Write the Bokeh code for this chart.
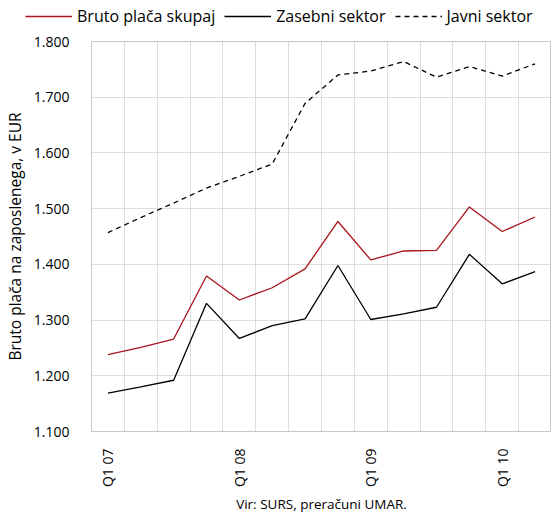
from bokeh.plotting import figure
from bokeh.models import FixedTicker, Legend, LegendItem
from bokeh.layouts import column, row
from bokeh.embed import file_html
from bokeh.resources import INLINE
import math

quarters = ["Q1 07", "Q2 07", "Q3 07", "Q4 07",
            "Q1 08", "Q2 08", "Q3 08", "Q4 08",
            "Q1 09", "Q2 09", "Q3 09", "Q4 09",
            "Q1 10", "Q2 10"]
bruto_skupaj = [1238, 1251, 1266, 1379, 1336, 1358, 1392, 1477, 1408, 1424, 1425, 1503, 1459, 1485]
zasebni = [1169, 1180, 1192, 1330, 1267, 1290, 1302, 1398, 1301, 1311, 1323, 1418, 1365, 1387]
javni = [1457, 1484, 1510, 1537, 1558, 1580, 1689, 1740, 1747, 1764, 1736, 1755, 1738, 1760]
y_ticks = [1100, 1200, 1300, 1400, 1500, 1600, 1700, 1800]
series = [("Bruto plača skupaj", bruto_skupaj, "#a8141c", "solid"),
          ("Zasebni sektor", zasebni, "#000000", "solid"),
          ("Javni sektor", javni, "#000000", "5 4")]

FONT = "Open Sans"
x = [i + 0.5 for i in range(len(quarters))]

# ---- main chart ----
p = figure(width=551, height=486, output_backend="svg", toolbar_location=None,
           x_range=(0, len(quarters)), y_range=(1100, 1800),
           min_border_left=82, min_border_right=0, min_border_top=11, min_border_bottom=85)
p.outline_line_color = "#c8c8c8"
p.outline_line_width = 1

p.xgrid.ticker = FixedTicker(ticks=list(range(1, len(quarters))))
p.ygrid.ticker = FixedTicker(ticks=y_ticks[1:-1])
for g in (p.xgrid, p.ygrid):
    g.grid_line_color = "#bdbdbd"
    g.grid_line_dash = "1 1"
    g.grid_line_width = 1

q1_idx = [i for i, q in enumerate(quarters) if q.startswith("Q1")]
p.xaxis.ticker = FixedTicker(ticks=[x[i] for i in q1_idx])
p.xaxis.major_label_overrides = {x[i]: quarters[i] for i in q1_idx}
p.xaxis.major_label_orientation = math.pi / 2
p.yaxis.ticker = FixedTicker(ticks=y_ticks)
p.yaxis.major_label_overrides = {v: f"{v // 1000}.{v % 1000:03d}" for v in y_ticks}
for ax in (p.xaxis[0], p.yaxis[0]):
    ax.axis_line_color = "#c8c8c8"
    ax.major_tick_line_color = None
    ax.minor_tick_line_color = None
    ax.major_label_text_font = FONT
    ax.major_label_text_font_size = "14px"
    ax.major_label_text_color = "#000000"
    ax.axis_label_text_font = FONT
    ax.axis_label_text_font_style = "normal"
    ax.axis_label_text_color = "#000000"
p.xaxis.major_label_standoff = 11
p.yaxis.major_label_standoff = 16
p.yaxis.axis_label = "Bruto plača na zaposlenega, v EUR"
p.yaxis.axis_label_text_font_size = "15.5px"
p.yaxis.axis_label_standoff = 5
p.xaxis.axis_label = "Vir: SURS, preračuni UMAR."
p.xaxis.axis_label_text_font_size = "13.5px"
p.xaxis.axis_label_standoff = 5

for name, vals, color, dash in series:
    p.line(x, vals, line_color=color, line_width=1.3, line_dash=dash)

# ---- legend strip (same series, y-range keeps the lines out of view) ----
lg = figure(width=551, height=30, output_backend="svg", toolbar_location=None,
            x_range=(0, 1), y_range=(0, 1),
            x_axis_location=None, y_axis_location=None,
            min_border_left=0, min_border_right=0, min_border_top=0, min_border_bottom=0)
lg.grid.visible = False
lg.outline_line_color = None
items = []
for name, vals, color, dash in series:
    r = lg.line(x, vals, line_color=color, line_width=1.3, line_dash=dash)
    items.append(LegendItem(label=name, renderers=[r]))
legend = Legend(items=items, orientation="horizontal", location=(25, 3),
                glyph_width=47, glyph_height=18, label_standoff=5, spacing=9,
                padding=0, margin=0, border_line_color=None,
                background_fill_alpha=0,
                label_text_font=FONT, label_text_font_size="16px",
                label_height=18, label_text_color="#000000")
lg.add_layout(legend, "center")

layout = column(row(lg), p, spacing=0)
open("out.html", "w").write(file_html(layout, INLINE))
